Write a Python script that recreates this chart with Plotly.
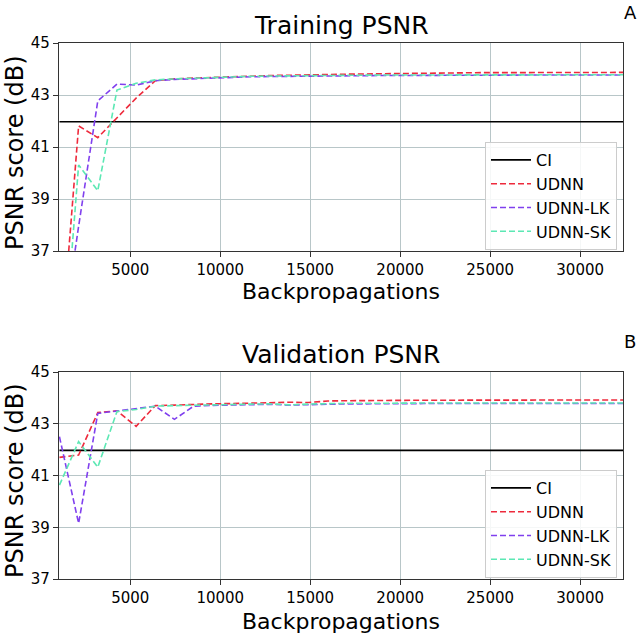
import plotly.graph_objects as go

# ---------------- data ----------------
epochs = list(range(1, 32))
backprops = [1065 * k for k in epochs]

ci_value = 41.97

train_udnn = [32.5, 41.81, 41.36, 42.14, 42.88, 43.55, 43.62, 43.65, 43.68, 43.71, 43.73,
              43.75, 43.76, 43.78, 43.79, 43.80, 43.81, 43.82, 43.84, 43.85, 43.85, 43.86,
              43.86, 43.86, 43.86, 43.86, 43.86, 43.87, 43.87, 43.87, 43.87]
train_lk = [32.9, 37.95, 42.77, 43.42, 43.38, 43.55, 43.60, 43.63, 43.66, 43.69, 43.70,
            43.71, 43.72, 43.73, 43.74, 43.74, 43.75, 43.75, 43.75, 43.76, 43.76, 43.76,
            43.76, 43.77, 43.77, 43.77, 43.77, 43.77, 43.77, 43.77, 43.77]
train_sk = [30.9, 40.31, 39.32, 43.19, 43.45, 43.58, 43.62, 43.65, 43.68, 43.70, 43.72,
            43.73, 43.74, 43.75, 43.75, 43.76, 43.76, 43.77, 43.77, 43.77, 43.78, 43.78,
            43.78, 43.78, 43.78, 43.78, 43.78, 43.78, 43.78, 43.78, 43.78]

val_udnn = [41.70, 41.79, 43.43, 43.50, 42.90, 43.70, 43.72, 43.75, 43.77, 43.78, 43.80,
            43.81, 43.83, 43.82, 43.88, 43.89, 43.90, 43.90, 43.90, 43.91, 43.91, 43.91,
            43.91, 43.91, 43.92, 43.92, 43.92, 43.92, 43.92, 43.92, 43.92]
val_lk = [42.50, 39.15, 43.40, 43.50, 43.60, 43.68, 43.17, 43.68, 43.71, 43.73, 43.74,
          43.75, 43.72, 43.74, 43.76, 43.77, 43.77, 43.78, 43.78, 43.78, 43.78, 43.78,
          43.78, 43.78, 43.78, 43.78, 43.78, 43.78, 43.78, 43.78, 43.78]
val_sk = [40.63, 42.31, 41.32, 43.47, 43.55, 43.68, 43.70, 43.72, 43.74, 43.75, 43.76,
          43.77, 43.73, 43.76, 43.78, 43.79, 43.79, 43.80, 43.80, 43.80, 43.80, 43.80,
          43.80, 43.80, 43.80, 43.80, 43.80, 43.80, 43.80, 43.80, 43.80]

series_names = ["UDNN", "UDNN-LK", "UDNN-SK"]
x_ticks = [5000, 10000, 15000, 20000, 25000, 30000]
x_tick_labels = ["5000", "10000", "15000", "20000", "25000", "30000"]
y_ticks = [37, 39, 41, 43, 45]

# ---------------- styling ----------------
W, H = 640, 635
FONT = "DejaVu Sans"
colors = {"UDNN": "#ee2a3c", "UDNN-LK": "#8040ee", "UDNN-SK": "#5ce8b4"}
grid_col = "#b8c6c8"
dash = "6px,3px"


def px(xp):
    return xp / W


def py(yp):
    return 1 - yp / H


fig = go.Figure()

panels = [
    dict(xa="x", ya="y", legend="legend", data=[train_udnn, train_lk, train_sk]),
    dict(xa="x2", ya="y2", legend="legend2", data=[val_udnn, val_lk, val_sk]),
]

for p in panels:
    fig.add_trace(go.Scatter(
        x=[backprops[0], backprops[-1]], y=[ci_value, ci_value], mode="lines",
        name="CI", line=dict(color="black", width=1.6),
        xaxis=p["xa"], yaxis=p["ya"], legend=p["legend"]))
    for name, ys in zip(series_names, p["data"]):
        fig.add_trace(go.Scatter(
            x=backprops, y=ys, mode="lines", name=name,
            line=dict(color=colors[name], width=1.6, dash=dash),
            xaxis=p["xa"], yaxis=p["ya"], legend=p["legend"]))

xdom = [px(59), px(623)]
ydom_top = [py(251), py(43)]
ydom_bot = [py(579), py(372)]

axis_common = dict(
    showgrid=True, gridcolor=grid_col, gridwidth=1,
    showline=True, linecolor="#333333", linewidth=1.3, mirror=True,
    ticks="outside", ticklen=5, tickcolor="#333333", tickwidth=1,
    tickfont=dict(family=FONT, size=15, color="black"),
    zeroline=False, automargin=False,
)

xrange_ = [1040, 32380]
yrange_ = [37, 45]

legend_common = dict(xanchor="left", yanchor="top", itemwidth=40,
                     bgcolor="rgba(255,255,255,0.85)", bordercolor="#cccccc", borderwidth=1,
                     font=dict(family=FONT, size=16), tracegroupgap=0)

fig.update_layout(
    width=W, height=H,
    margin=dict(l=0, r=0, t=0, b=0),
    paper_bgcolor="white", plot_bgcolor="white",
    font=dict(family=FONT, color="black"),
    xaxis=dict(domain=xdom, anchor="y", range=xrange_, tickvals=x_ticks,
               ticktext=x_tick_labels, **axis_common),
    yaxis=dict(domain=ydom_top, anchor="x", range=yrange_, tickvals=y_ticks, **axis_common),
    xaxis2=dict(domain=xdom, anchor="y2", range=xrange_, tickvals=x_ticks,
                ticktext=x_tick_labels, **axis_common),
    yaxis2=dict(domain=ydom_bot, anchor="x2", range=yrange_, tickvals=y_ticks, **axis_common),
    legend=dict(x=px(485), y=py(142), **legend_common),
    legend2=dict(x=px(485), y=py(470), **legend_common),
    showlegend=True,
)

annotations = [
    dict(text="Training PSNR", x=px(341), y=py(25), font=dict(size=25)),
    dict(text="Validation PSNR", x=px(341), y=py(354), font=dict(size=25)),
    dict(text="A", x=px(630), y=py(13), font=dict(size=18)),
    dict(text="B", x=px(630), y=py(341), font=dict(size=18)),
    dict(text="Backpropagations", x=px(341), y=py(292), font=dict(size=22)),
    dict(text="Backpropagations", x=px(341), y=py(621), font=dict(size=22)),
    dict(text="PSNR score (dB)", x=px(15), y=py(153), font=dict(size=24), textangle=-90),
    dict(text="PSNR score (dB)", x=px(15), y=py(481), font=dict(size=24), textangle=-90),
]
for a in annotations:
    a.update(xref="paper", yref="paper", showarrow=False, xanchor="center", yanchor="middle")
    a["font"].update(family=FONT, color="black")
fig.update_layout(annotations=annotations)

# remove the browser's default 8px page margin so the figure fills the window
fig.write_html("out.html", config={"displayModeBar": False},
               post_script="document.body.style.margin='0';")
